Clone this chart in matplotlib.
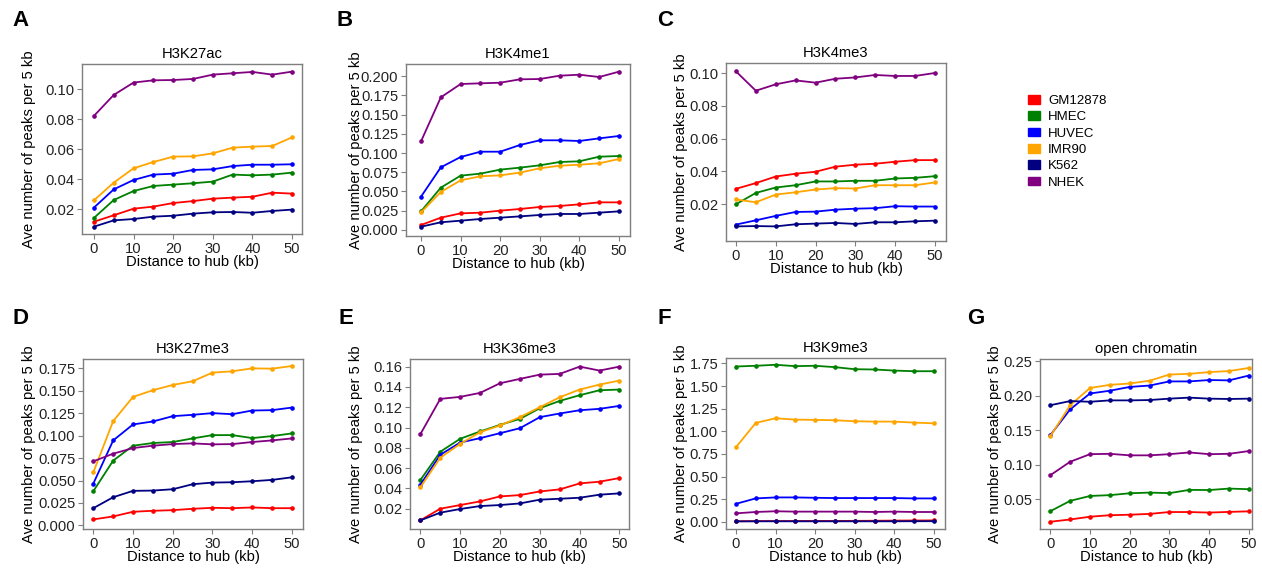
import matplotlib
matplotlib.use("Agg")
import matplotlib.pyplot as plt
from matplotlib.patches import Patch

plt.rcParams['font.family'] = ['Liberation Sans', 'DejaVu Sans']

# x positions (kb from hub)
dist = [0, 5, 10, 15, 20, 25, 30, 35, 40, 45, 50]
cell_lines = ['GM12878', 'HMEC', 'HUVEC', 'IMR90', 'K562', 'NHEK']
colors = ['#FF0000', '#008000', '#0000FF', '#FFA500', '#000080', '#800080']

# values per panel, rows follow cell_lines order
h3k27ac = [
    [0.0115, 0.0158, 0.0202, 0.0216, 0.0240, 0.0253, 0.0269, 0.0276, 0.0282, 0.0309, 0.0303],
    [0.0140, 0.0260, 0.0320, 0.0354, 0.0363, 0.0372, 0.0383, 0.0430, 0.0425, 0.0430, 0.0443],
    [0.0209, 0.0331, 0.0394, 0.0430, 0.0436, 0.0461, 0.0465, 0.0487, 0.0496, 0.0496, 0.0499],
    [0.0258, 0.0376, 0.0472, 0.0514, 0.0550, 0.0552, 0.0572, 0.0610, 0.0617, 0.0621, 0.0679],
    [0.0082, 0.0124, 0.0133, 0.0149, 0.0155, 0.0169, 0.0178, 0.0180, 0.0175, 0.0187, 0.0196],
    [0.0822, 0.0962, 0.1045, 0.1060, 0.1062, 0.1069, 0.1098, 0.1107, 0.1116, 0.1098, 0.1118],
]
h3k4me1 = [
    [0.0065, 0.0160, 0.0216, 0.0225, 0.0251, 0.0273, 0.0299, 0.0312, 0.0333, 0.0359, 0.0359],
    [0.0242, 0.0550, 0.0706, 0.0732, 0.0784, 0.0810, 0.0840, 0.0883, 0.0892, 0.0952, 0.0961],
    [0.0433, 0.0814, 0.0948, 0.1017, 0.1017, 0.1104, 0.1165, 0.1165, 0.1156, 0.1190, 0.1221],
    [0.0229, 0.0494, 0.0645, 0.0697, 0.0710, 0.0745, 0.0801, 0.0835, 0.0848, 0.0866, 0.0922],
    [0.0043, 0.0100, 0.0121, 0.0143, 0.0160, 0.0177, 0.0195, 0.0208, 0.0208, 0.0225, 0.0242],
    [0.1152, 0.1723, 0.1896, 0.1905, 0.1913, 0.1957, 0.1961, 0.2004, 0.2017, 0.1987, 0.2056],
]
h3k4me3 = [
    [0.0294, 0.0329, 0.0369, 0.0386, 0.0398, 0.0429, 0.0441, 0.0447, 0.0459, 0.0469, 0.0469],
    [0.0200, 0.0269, 0.0302, 0.0316, 0.0339, 0.0339, 0.0343, 0.0343, 0.0357, 0.0361, 0.0371],
    [0.0076, 0.0102, 0.0129, 0.0153, 0.0155, 0.0167, 0.0173, 0.0176, 0.0188, 0.0186, 0.0186],
    [0.0229, 0.0212, 0.0259, 0.0273, 0.0290, 0.0298, 0.0296, 0.0316, 0.0316, 0.0316, 0.0333],
    [0.0065, 0.0067, 0.0065, 0.0078, 0.0082, 0.0086, 0.0080, 0.0090, 0.0090, 0.0096, 0.0100],
    [0.1010, 0.0892, 0.0931, 0.0955, 0.0941, 0.0965, 0.0973, 0.0988, 0.0982, 0.0982, 0.1000],
]
h3k27me3 = [
    [0.0067, 0.0100, 0.0152, 0.0163, 0.0170, 0.0185, 0.0196, 0.0192, 0.0200, 0.0192, 0.0192],
    [0.0381, 0.0722, 0.0888, 0.0918, 0.0929, 0.0969, 0.1006, 0.1006, 0.0973, 0.0995, 0.1025],
    [0.0466, 0.0947, 0.1125, 0.1158, 0.1217, 0.1232, 0.1251, 0.1239, 0.1280, 0.1284, 0.1313],
    [0.0592, 0.1162, 0.1432, 0.1506, 0.1565, 0.1606, 0.1702, 0.1717, 0.1750, 0.1746, 0.1776],
    [0.0192, 0.0314, 0.0385, 0.0388, 0.0403, 0.0459, 0.0477, 0.0481, 0.0492, 0.0507, 0.0536],
    [0.0714, 0.0799, 0.0862, 0.0888, 0.0906, 0.0914, 0.0903, 0.0906, 0.0929, 0.0947, 0.0969],
]
h3k36me3 = [
    [0.0085, 0.0200, 0.0236, 0.0272, 0.0321, 0.0334, 0.0370, 0.0390, 0.0449, 0.0466, 0.0502],
    [0.0482, 0.0761, 0.0889, 0.0961, 0.1026, 0.1085, 0.1190, 0.1262, 0.1318, 0.1367, 0.1374],
    [0.0436, 0.0731, 0.0852, 0.0895, 0.0944, 0.0993, 0.1102, 0.1138, 0.1170, 0.1184, 0.1213],
    [0.0410, 0.0702, 0.0839, 0.0954, 0.1020, 0.1102, 0.1200, 0.1298, 0.1374, 0.1423, 0.1462],
    [0.0085, 0.0161, 0.0197, 0.0226, 0.0236, 0.0252, 0.0289, 0.0298, 0.0308, 0.0338, 0.0351],
    [0.0934, 0.1282, 0.1302, 0.1341, 0.1436, 0.1479, 0.1521, 0.1528, 0.1600, 0.1561, 0.1600],
]
h3k9me3 = [
    [0.006, 0.007, 0.008, 0.008, 0.009, 0.009, 0.010, 0.011, 0.013, 0.014, 0.015],
    [1.716, 1.724, 1.735, 1.720, 1.724, 1.709, 1.686, 1.683, 1.671, 1.664, 1.664],
    [0.198, 0.258, 0.269, 0.269, 0.265, 0.262, 0.262, 0.262, 0.262, 0.258, 0.258],
    [0.823, 1.092, 1.144, 1.129, 1.126, 1.122, 1.111, 1.107, 1.107, 1.096, 1.088],
    [0.004, 0.005, 0.005, 0.005, 0.005, 0.005, 0.005, 0.005, 0.005, 0.006, 0.006],
    [0.093, 0.108, 0.116, 0.112, 0.112, 0.112, 0.112, 0.108, 0.112, 0.108, 0.108],
]
open_chromatin = [
    [0.0175, 0.0208, 0.0248, 0.0270, 0.0277, 0.0289, 0.0316, 0.0316, 0.0308, 0.0318, 0.0326],
    [0.0328, 0.0478, 0.0549, 0.0561, 0.0588, 0.0598, 0.0590, 0.0637, 0.0635, 0.0656, 0.0647],
    [0.1430, 0.1805, 0.2035, 0.2075, 0.2130, 0.2150, 0.2210, 0.2210, 0.2230, 0.2225, 0.2295],
    [0.1415, 0.1865, 0.2115, 0.2160, 0.2180, 0.2220, 0.2310, 0.2320, 0.2345, 0.2360, 0.2405],
    [0.1865, 0.1925, 0.1915, 0.1935, 0.1935, 0.1940, 0.1960, 0.1975, 0.1960, 0.1955, 0.1960],
    [0.0850, 0.1045, 0.1155, 0.1160, 0.1138, 0.1138, 0.1155, 0.1180, 0.1155, 0.1160, 0.1200],
]

titles = ['H3K27ac', 'H3K4me1', 'H3K4me3', 'H3K27me3', 'H3K36me3', 'H3K9me3', 'open chromatin']
letters = ['A', 'B', 'C', 'D', 'E', 'F', 'G']
y_ticks = [
    [0.02, 0.04, 0.06, 0.08, 0.10],
    [0.0, 0.025, 0.05, 0.075, 0.1, 0.125, 0.15, 0.175, 0.2],
    [0.02, 0.04, 0.06, 0.08, 0.10],
    [0.0, 0.025, 0.05, 0.075, 0.1, 0.125, 0.15, 0.175],
    [0.02, 0.04, 0.06, 0.08, 0.10, 0.12, 0.14, 0.16],
    [0.0, 0.25, 0.5, 0.75, 1.0, 1.25, 1.5, 1.75],
    [0.05, 0.10, 0.15, 0.20, 0.25],
]
y_fmt = ['%.2f', '%.3f', '%.2f', '%.3f', '%.2f', '%.2f', '%.2f']
panels = [h3k27ac, h3k4me1, h3k4me3, h3k27me3, h3k36me3, h3k9me3, open_chromatin]

# layout in pixels: box (left, top, right, bottom), limits, ylabel offset, letter pos
W, H = 1262, 571
boxes = [(82, 64, 302, 234), (406, 64, 630, 236), (726, 63, 946, 241),
         (83, 359, 303, 529), (410, 359, 629, 529), (726, 358, 945, 529),
         (1040, 359, 1252, 529)]
xlims = [(-3.0, 52.5), (-3.8, 52.8), (-2.5, 52.8), (-2.6, 52.8), (-2.6, 52.4),
         (-2.5, 52.8), (-2.6, 50.8)]
ylims = [(0.0033, 0.1169), (-0.0078, 0.2156), (-0.0024, 0.1061), (-0.004, 0.1854),
         (0.0, 0.1675), (-0.08, 1.81), (0.007, 0.2535)]
ylab_off = [54, 51, 46, 55, 55, 46, 46]
letter_xy = [(12, 26), (337, 26), (657, 26), (13, 324), (338, 324), (658, 324), (967, 324)]
fs = 10.6

fig = plt.figure(figsize=(W / 100, H / 100), dpi=100)

for i, vals in enumerate(panels):
    l, t, r, b = boxes[i]
    ax = fig.add_axes([l / W, 1 - b / H, (r - l) / W, (b - t) / H])
    for k in range(len(cell_lines)):
        ax.plot(dist, vals[k], color=colors[k], lw=1.3, marker='o', ms=2.3,
                label=cell_lines[k])
    ax.set_xlim(*xlims[i])
    ax.set_ylim(*ylims[i])
    ax.set_xticks([0, 10, 20, 30, 40, 50])
    ax.set_yticks(y_ticks[i])
    ax.set_yticklabels([y_fmt[i] % v for v in y_ticks[i]])
    for s in ax.spines.values():
        s.set_color('#7f7f7f')
        s.set_linewidth(1.0)
    ax.tick_params(length=3.5, width=0.8, color='#7f7f7f', labelsize=fs,
                   labelcolor='#222222', pad=2)
    ax.set_title(titles[i], fontsize=fs, pad=4)
    ax.set_xlabel('Distance to hub (kb)', fontsize=fs, labelpad=-0.5)
    ax.set_ylabel('Ave number of peaks per 5 kb', fontsize=fs)
    ax.yaxis.set_label_coords(-(ylab_off[i] - 8) / (r - l), 0.5)
    lx, ly = letter_xy[i]
    fig.text(lx / W, 1 - ly / H, letters[i], fontsize=16, fontweight='bold',
             ha='left', va='baseline')

handles = [Patch(facecolor=c, edgecolor=c) for c in colors]
fig.legend(handles, cell_lines, loc='upper left', bbox_to_anchor=(1028 / W, 1 - 95 / H),
           frameon=False, fontsize=9.5, handlelength=0.93, handleheight=0.63,
           handletextpad=0.6, labelspacing=0.33, borderaxespad=0, borderpad=0)

fig.savefig('out.png', dpi=100)
